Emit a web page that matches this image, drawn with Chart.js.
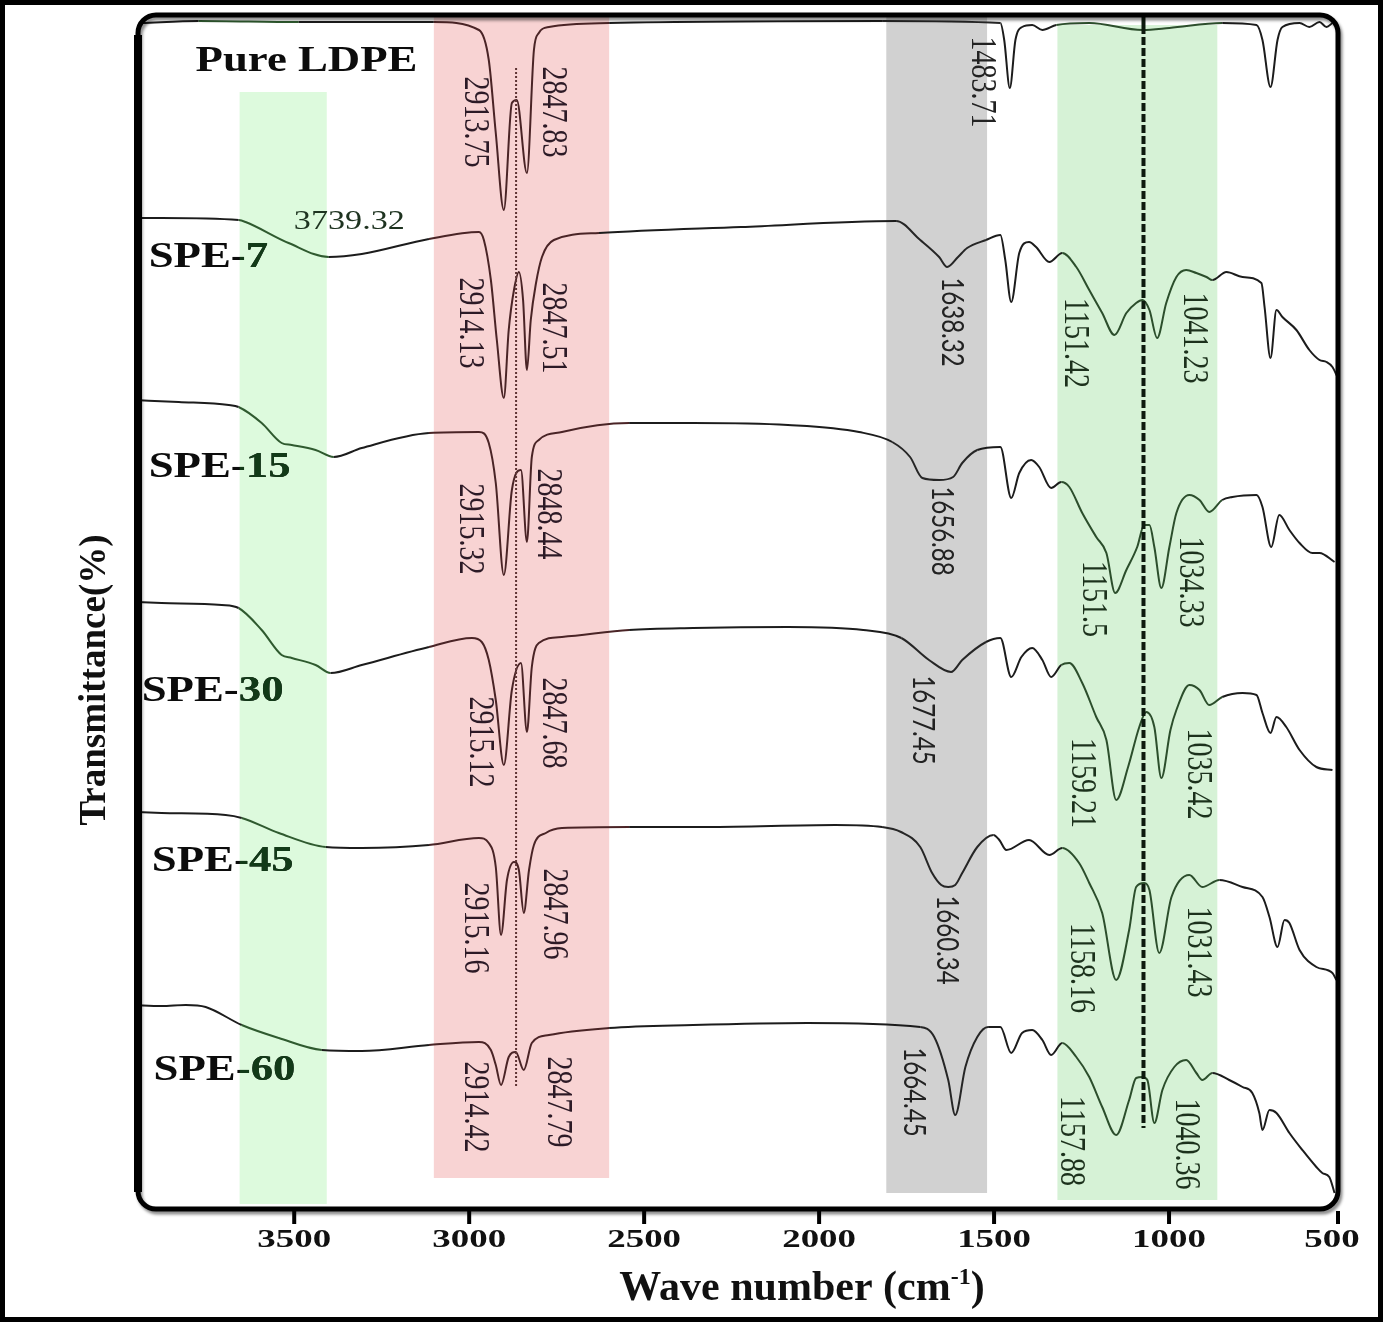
<!DOCTYPE html>
<html>
<head>
<meta charset="utf-8">
<title>FTIR spectra of LDPE and SPE films</title>
<script src="https://cdn.jsdelivr.net/npm/chart.js@4.4.1/dist/chart.umd.min.js"></script>
<style>
  html, body { margin: 0; padding: 0; background: #fff; }
  #wrap { width: 1383px; height: 1322px; position: relative; }
</style>
</head>
<body>
<div id="wrap"><canvas id="ftirChart"></canvas></div>
<script>
// wavenumber ticks (cm-1)
const xTicks = [3500, 3000, 2500, 2000, 1500, 1000, 500]

// spectra: wavenumber (cm-1) and stacked transmittance (a.u.)
const ldpeWn = [3936, 3773, 3487, 3101, 2972, 2944, 2924, 2901, 2878, 2864, 2835, 2815, 2801, 2772, 2600, 1820, 1482, 1471, 1455, 1439, 1420, 1391, 1362, 1322, 1228, 1076, 999, 848, 750, 733, 710, 690, 676, 627, 599, 570, 550, 533]
const ldpeT = [118.5, 118.7, 118.6, 118.6, 117.8, 114.8, 107.5, 99.8, 110.5, 110.8, 103.5, 115.8, 117.5, 118.1, 118.5, 118.7, 118.5, 116.8, 112.0, 116.8, 118.1, 118.3, 117.8, 118.3, 118.5, 117.8, 118.0, 118.5, 118.3, 116.8, 112.1, 116.8, 118.1, 118.5, 118.1, 118.6, 118.1, 118.5]

const spe7Wn = [3959, 3879, 3659, 3639, 3516, 3401, 3307, 3115, 2972, 2958, 2938, 2921, 2901, 2887, 2872, 2858, 2846, 2835, 2824, 2809, 2792, 2758, 2629, 2223, 1780, 1711, 1657, 1634, 1603, 1577, 1523, 1482, 1468, 1451, 1428, 1400, 1380, 1342, 1305, 1265, 1228, 1191, 1156, 1122, 1094, 1076, 1056, 1034, 1008, 979, 951, 922, 893, 876, 836, 790, 736, 727, 710, 693, 676, 636, 599, 570, 550, 533, 519]
const spe7T = [99.0, 99.0, 98.8, 98.6, 96.5, 95.1, 95.4, 96.9, 97.6, 96.8, 92.8, 86.8, 81.0, 87.8, 91.8, 93.6, 90.8, 83.8, 88.8, 92.5, 95.1, 96.8, 97.5, 98.1, 98.7, 96.8, 95.1, 94.1, 95.1, 96.0, 96.8, 97.3, 94.8, 90.6, 95.5, 96.6, 96.1, 94.6, 95.5, 94.1, 91.8, 89.5, 87.3, 89.5, 90.5, 90.8, 89.8, 87.0, 90.5, 93.1, 93.8, 93.5, 93.1, 92.8, 93.6, 93.1, 92.5, 90.1, 85.0, 89.8, 89.1, 87.8, 85.8, 84.8, 84.6, 84.1, 83.1]

const spe15Wn = [3959, 3830, 3687, 3659, 3593, 3536, 3507, 3439, 3387, 3307, 3115, 2972, 2944, 2924, 2901, 2878, 2852, 2835, 2821, 2801, 2735, 2543, 2360, 2089, 1886, 1791, 1740, 1705, 1657, 1617, 1591, 1548, 1482, 1451, 1428, 1394, 1371, 1337, 1308, 1285, 1248, 1208, 1179, 1154, 1122, 1091, 1071, 1056, 1042, 1022, 999, 979, 942, 913, 885, 848, 819, 750, 733, 708, 685, 656, 627, 590, 570, 527]
const spe15T = [80.8, 80.6, 80.3, 80.1, 78.5, 76.5, 76.3, 75.8, 75.1, 76.0, 77.5, 77.6, 76.5, 72.5, 63.3, 71.8, 73.8, 66.6, 75.1, 76.8, 77.6, 78.5, 78.5, 78.3, 77.6, 76.6, 75.1, 73.0, 72.8, 73.1, 74.5, 75.8, 76.1, 71.0, 73.5, 74.8, 74.1, 72.0, 72.6, 72.1, 69.5, 67.1, 65.5, 61.5, 63.8, 66.1, 68.3, 68.3, 66.1, 62.0, 66.1, 69.5, 71.3, 70.8, 69.6, 70.8, 71.1, 71.3, 70.1, 66.1, 69.3, 67.8, 66.5, 65.5, 65.5, 64.6]

const spe30Wn = [3959, 3879, 3707, 3659, 3593, 3536, 3507, 3439, 3396, 3307, 3115, 2992, 2964, 2944, 2924, 2901, 2878, 2852, 2835, 2821, 2801, 2735, 2543, 2360, 2089, 1874, 1765, 1686, 1623, 1591, 1523, 1482, 1451, 1422, 1391, 1362, 1337, 1308, 1285, 1248, 1208, 1179, 1151, 1117, 1085, 1065, 1042, 1022, 996, 979, 942, 913, 885, 848, 790, 750, 733, 710, 693, 665, 627, 579, 533]
const spe30T = [60.6, 60.5, 60.3, 60.0, 57.8, 55.3, 55.0, 54.3, 53.5, 54.3, 56.1, 57.0, 56.6, 54.8, 50.8, 44.3, 51.8, 54.5, 47.6, 54.1, 56.5, 57.1, 57.8, 58.0, 58.1, 57.8, 57.0, 54.8, 53.6, 54.8, 56.6, 57.0, 53.1, 55.1, 56.0, 54.8, 53.1, 54.3, 54.5, 52.5, 49.1, 46.8, 40.8, 44.1, 48.1, 49.6, 48.1, 43.0, 47.8, 49.8, 52.3, 51.8, 50.3, 51.1, 51.5, 51.3, 49.5, 47.5, 49.1, 48.1, 45.8, 44.1, 43.8]

const spe45Wn = [3959, 3879, 3696, 3650, 3544, 3410, 3307, 3115, 2972, 2944, 2924, 2909, 2892, 2872, 2858, 2844, 2829, 2815, 2781, 2735, 2543, 2320, 1954, 1820, 1766, 1711, 1677, 1651, 1631, 1611, 1591, 1548, 1502, 1485, 1465, 1400, 1342, 1305, 1257, 1228, 1191, 1151, 1114, 1094, 1071, 1056, 1028, 993, 942, 905, 856, 790, 733, 713, 690, 670, 656, 627, 579, 533, 522]
const spe45T = [39.6, 39.5, 39.3, 39.0, 37.5, 36.1, 36.0, 36.3, 37.0, 36.5, 34.1, 27.3, 32.8, 34.6, 33.8, 29.5, 33.8, 36.3, 37.5, 38.0, 38.1, 38.1, 38.3, 38.1, 37.6, 36.1, 33.5, 32.3, 32.1, 32.3, 33.5, 36.1, 37.3, 36.8, 35.8, 36.8, 35.3, 36.0, 34.5, 32.5, 29.5, 22.8, 27.8, 32.1, 32.5, 31.8, 25.5, 31.1, 33.3, 32.1, 32.8, 32.1, 31.1, 29.1, 26.1, 28.8, 28.5, 25.8, 24.1, 23.5, 22.8]

const spe60Wn = [3959, 3879, 3810, 3753, 3650, 3544, 3421, 3307, 3115, 2972, 2938, 2924, 2909, 2887, 2867, 2844, 2821, 2772, 2600, 2360, 2034, 1711, 1671, 1631, 1611, 1582, 1548, 1517, 1482, 1451, 1420, 1391, 1362, 1337, 1305, 1265, 1228, 1191, 1151, 1114, 1094, 1076, 1062, 1042, 1019, 985, 951, 922, 905, 876, 828, 790, 762, 742, 733, 713, 693, 656, 619, 579, 562, 542, 527]
const spe60T = [20.3, 20.2, 20.3, 20.1, 18.3, 17.0, 15.8, 15.7, 16.3, 16.6, 15.8, 14.3, 12.3, 15.1, 15.6, 13.8, 16.5, 17.3, 18.0, 18.3, 18.5, 18.1, 17.1, 12.8, 9.3, 14.1, 17.1, 18.1, 18.1, 15.5, 17.5, 17.8, 16.8, 15.3, 16.5, 15.1, 13.1, 10.1, 7.3, 10.8, 13.0, 13.1, 12.8, 8.5, 11.8, 14.1, 14.8, 13.5, 12.8, 13.5, 12.8, 12.1, 11.5, 9.5, 7.8, 9.8, 9.5, 7.5, 5.8, 4.1, 3.5, 3.1, 1.5]

// sample names and where they sit (left edge wavenumber, transmittance)
const sampleNames = ['Pure LDPE', 'SPE-7', 'SPE-15', 'SPE-30', 'SPE-45', 'SPE-60']
const nameWn = [3782, 3916, 3916, 3936, 3907, 3902]
const nameT = [114.6, 95.0, 74.0, 51.6, 34.6, 13.7]

// shaded bands: O-H, C-H stretch, C=O, C-O
const bandFrom = [3656, 3101, 1808, 1319]
const bandTo = [3407, 2600, 1520, 862]
const bandTop = [111.6, 119.5, 119.5, 118.3]
const bandBottom = [0.4, 3.0, 1.5, 0.8]

// peak labels (rotated), centred at wavenumber / transmittance
const peakText = ['2913.75', '2847.83', '1483.71',
  '2914.13', '2847.51', '1638.32', '1151.42', '1041.23',
  '2915.32', '2848.44', '1656.88', '1151.5', '1034.33',
  '2915.12', '2847.68', '1677.45', '1159.21', '1035.42',
  '2915.16', '2847.96', '1660.34', '1158.16', '1031.43',
  '2914.42', '2847.79', '1664.45', '1157.88', '1040.36']
const peakWn = [2984, 2763, 1537,
  2998, 2763, 1620, 1271, 930,
  2998, 2775, 1648, 1219, 942,
  2972, 2763, 1703, 1251, 919,
  2984, 2758, 1634, 1254, 919,
  2984, 2749, 1728, 1282, 953]
const peakT = [108.6, 109.6, 112.6,
  88.5, 88.0, 88.6, 86.5, 87.0,
  67.9, 69.4, 67.7, 60.9, 62.6,
  46.6, 48.5, 48.8, 42.5, 43.4,
  28.0, 29.4, 26.8, 24.0, 25.6,
  10.1, 10.6, 11.6, 6.7, 6.4]

// O-H shoulder label
const ohText = '3739.32'
const ohWn = 3501
const ohT = 98.6

// reference lines
const dottedWn = 2866
const dottedRange = [12.0, 114.0]
const dashedWn = 1073
const dashedRange = [8.0, 119.5]

const spectra = [
  [ldpeWn, ldpeT], [spe7Wn, spe7T], [spe15Wn, spe15T],
  [spe30Wn, spe30T], [spe45Wn, spe45T], [spe60Wn, spe60T]
]

const bandFill = ['#ddfadd', '#f8d3d3', '#d1d1d1', '#d6f2d6']
const bandInk = ['#2f5a2f', '#4a2426', '#262626', '#2c4e2c']
const labelInk = ['#1e3320', '#2c1a26', '#222222', '#1c311c']
const sansLabels = new Set(['1638.32', '1656.88', '1677.45', '1660.34', '1664.45'])
const serif = '"Liberation Serif", "Times New Roman", serif'

function bandAt(wn) {
    for (let i = 0; i < bandFrom.length; i++) {
        if (wn <= bandFrom[i] && wn >= bandTo[i]) return i
    }
    return -1
}

function drawText(ctx, text, x, y, font, color, sx, rot, align) {
    ctx.save()
    ctx.font = font
    ctx.fillStyle = color
    ctx.textAlign = align || 'left'
    ctx.textBaseline = 'middle'
    ctx.translate(x, y)
    ctx.scale(sx, 1)
    if (rot) ctx.rotate(rot)
    ctx.fillText(text, 0, 0)
    ctx.restore()
}

const figurePlugin = {
    id: 'figure',
    beforeDraw(chart) {
        const ctx = chart.ctx
        ctx.save()
        ctx.fillStyle = '#fff'
        ctx.fillRect(0, 0, chart.width, chart.height)
        ctx.restore()
    },
    beforeDatasetsDraw(chart) {
        const {ctx, scales: {x, y}} = chart
        ctx.save()
        bandFrom.forEach((from, i) => {
            const x0 = x.getPixelForValue(from)
            const x1 = x.getPixelForValue(bandTo[i])
            const y0 = y.getPixelForValue(bandTop[i])
            const y1 = y.getPixelForValue(bandBottom[i])
            ctx.fillStyle = bandFill[i]
            ctx.fillRect(x0, y0, x1 - x0, y1 - y0)
        })
        ctx.restore()
    },
    afterDraw(chart) {
        const {ctx, chartArea: area, scales: {x, y}} = chart
        ctx.save()
        ctx.beginPath()
        ctx.rect(0, 0, chart.width, chart.height)
        ctx.clip()

        // dotted line through the C-H doublet
        ctx.strokeStyle = '#5e3434'
        ctx.lineWidth = 2
        ctx.setLineDash([2, 2])
        const xd = x.getPixelForValue(dottedWn)
        ctx.beginPath()
        ctx.moveTo(xd, y.getPixelForValue(dottedRange[1]))
        ctx.lineTo(xd, y.getPixelForValue(dottedRange[0]))
        ctx.stroke()

        // dashed line through the C-O region
        const xk = x.getPixelForValue(dashedWn)
        ctx.strokeStyle = '#0d1a0e'
        ctx.lineWidth = 4
        ctx.setLineDash([])
        ctx.beginPath()
        ctx.moveTo(xk, y.getPixelForValue(dashedRange[1]))
        ctx.lineTo(xk, y.getPixelForValue(118.2))
        ctx.stroke()
        ctx.setLineDash([8, 3])
        ctx.beginPath()
        ctx.moveTo(xk, y.getPixelForValue(118.2))
        ctx.lineTo(xk, y.getPixelForValue(dashedRange[0]))
        ctx.stroke()
        ctx.setLineDash([])

        // peak labels, rotated to read downwards
        peakText.forEach((t, i) => {
            const px = x.getPixelForValue(peakWn[i])
            const py = y.getPixelForValue(peakT[i])
            const sans = sansLabels.has(t)
            const font = sans ? '24px Lato, "Liberation Sans", sans-serif' : '28px ' + serif
            const b = bandAt(peakWn[i])
            const color = b < 0 ? '#1e1e1e' : labelInk[b]
            drawText(ctx, t, px, py, font, color, 1.28, Math.PI / 2, 'center')
        })

        drawText(ctx, ohText, x.getPixelForValue(ohWn), y.getPixelForValue(ohT),
            '28px ' + serif, '#1e3320', 1.22, 0, 'left')

        // sample names, tinted where the green band covers them
        const g0 = x.getPixelForValue(bandFrom[0])
        const g1 = x.getPixelForValue(bandTo[0])
        sampleNames.forEach((name, i) => {
            const px = x.getPixelForValue(nameWn[i])
            const py = y.getPixelForValue(nameT[i])
            const font = 'bold 35px ' + serif
            drawText(ctx, name, px, py, font, '#0c0c0c', 1.28, 0, 'left')
            if (i > 0) {
                ctx.save()
                ctx.beginPath()
                ctx.rect(g0, py - 30, g1 - g0, 60)
                ctx.clip()
                drawText(ctx, name, px, py, font, '#123a18', 1.28, 0, 'left')
                ctx.restore()
            }
        })

        // rounded plot frame with a soft shadow
        const fl = area.left + 3
        const fr = area.right - 6
        ctx.save()
        ctx.shadowColor = 'rgba(0,0,0,0.45)'
        ctx.shadowBlur = 3
        ctx.shadowOffsetX = 2
        ctx.shadowOffsetY = 3
        ctx.strokeStyle = '#000'
        ctx.lineWidth = 5
        ctx.beginPath()
        ctx.roundRect(fl, area.top + 2, fr - fl, area.bottom - area.top - 1, 18)
        ctx.stroke()
        ctx.restore()
        ctx.strokeStyle = '#000'
        ctx.lineWidth = 8
        ctx.beginPath()
        ctx.moveTo(fl, area.top + 22)
        ctx.lineTo(fl, area.bottom - 16)
        ctx.stroke()

        // tick marks below the frame, then their labels
        ctx.lineWidth = 4
        x.ticks.forEach(t => {
            const px = Math.min(x.getPixelForValue(t.value), fr)
            ctx.beginPath()
            ctx.moveTo(px, area.bottom + 3)
            ctx.lineTo(px, area.bottom + 16)
            ctx.stroke()
            drawText(ctx, String(t.value), Math.min(px, 1332), area.bottom + 32,
                'bold 26px ' + serif, '#111', 1.42, 0, 'center')
        })

        // axis titles
        ctx.font = 'bold 42px ' + serif
        const main = 'Wave number (cm'
        const wMain = ctx.measureText(main).width
        ctx.font = 'bold 24px ' + serif
        const wSup = ctx.measureText('-1').width
        ctx.font = 'bold 42px ' + serif
        const wEnd = ctx.measureText(')').width
        const left = 802 - (wMain + wSup + wEnd) / 2
        const base = 1300
        ctx.fillStyle = '#111'
        ctx.textAlign = 'left'
        ctx.textBaseline = 'alphabetic'
        ctx.fillText(main, left, base)
        ctx.font = 'bold 24px ' + serif
        ctx.fillText('-1', left + wMain, base - 16)
        ctx.font = 'bold 42px ' + serif
        ctx.fillText(')', left + wMain + wSup, base)

        drawText(ctx, 'Transmittance(%)', 95, 680, 'bold 37px ' + serif, '#111', 1, -Math.PI / 2, 'center')

        // outer border of the figure
        ctx.strokeStyle = '#000'
        ctx.lineWidth = 5
        ctx.strokeRect(2.5, 2.5, chart.width - 5, chart.height - 5)
        ctx.restore()
    }
}

const ctx = document.getElementById('ftirChart').getContext('2d')

new Chart(ctx, {
    type: 'line',
    data: {
        datasets: spectra.map(([wn, t], i) => ({
            label: sampleNames[i],
            data: wn.map((v, k) => ({x: v, y: t[k]})),
            borderColor: '#1c1c1c',
            borderWidth: 2,
            pointRadius: 0,
            fill: false,
            cubicInterpolationMode: 'monotone',
            segment: {
                borderColor: c => {
                    const b = bandAt((c.p0.parsed.x + c.p1.parsed.x) / 2)
                    return b < 0 ? '#1c1c1c' : bandInk[b]
                }
            }
        }))
    },
    options: {
        responsive: true,
        maintainAspectRatio: false,
        animation: false,
        layout: { padding: { left: 135, right: 39, top: 13, bottom: 0 } },
        plugins: {
            legend: { display: false },
            tooltip: { enabled: false }
        },
        scales: {
            x: {
                type: 'linear',
                reverse: true,
                min: 500,
                max: 3955,
                afterBuildTicks: scale => { scale.ticks = xTicks.map(v => ({value: v})) },
                afterFit: scale => { scale.height = 114 },
                ticks: { display: false },
                grid: { display: false },
                border: { display: false }
            },
            y: {
                display: false,
                min: 0,
                max: 119.5
            }
        }
    },
    plugins: [figurePlugin]
})
</script>
</body>
</html>
